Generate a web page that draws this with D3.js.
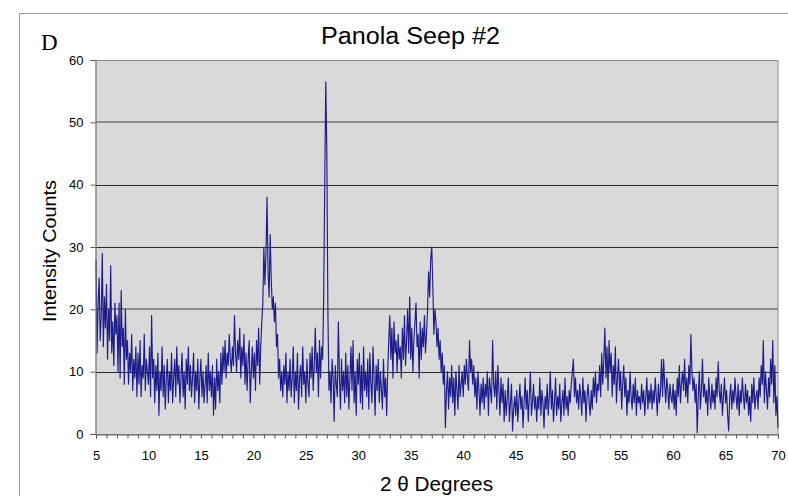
<!DOCTYPE html>
<html>
<head>
<meta charset="utf-8">
<script src="https://cdn.jsdelivr.net/npm/d3@7"></script>
<style>
  html, body { margin: 0; padding: 0; background: #fff; }
  svg { display: block; }
</style>
</head>
<body>
<svg id="chart" width="788" height="496"></svg>
<script>
// ---- Data (2θ from 5 to 70 in 0.1° steps) ----
const startAngle = 5;
const stepAngle = 0.1;
const intensity = [
  28, 13, 21, 25, 15, 19, 29, 14, 22, 17,
  24, 12, 20, 15, 27, 13, 18, 11, 21, 16,
  19, 10, 21, 9, 23, 14, 17, 8, 20, 12,
  15, 8, 13, 10, 16, 7, 12, 9, 14, 6,
  13, 8, 15, 6, 11, 9, 16, 7, 12, 10,
  8, 14, 6, 19, 9, 12, 5, 11, 7, 13,
  3, 10, 7, 14, 6, 11, 4, 9, 12, 5,
  10, 7, 13, 5, 9, 12, 6, 14, 8, 11,
  5, 9, 13, 6, 10, 4, 12, 8, 14, 7,
  11, 6, 9, 13, 5, 10, 7, 12, 4, 9,
  12, 6, 10, 5, 8, 11, 5, 13, 7, 10,
  6, 11, 3, 9, 4, 12, 7, 10, 5, 13,
  8, 14, 10, 15, 9, 13, 11, 16, 12, 10,
  14, 11, 19, 13, 10, 15, 12, 17, 9, 14,
  11, 16, 8, 13, 7, 12, 15, 5, 10, 14,
  9, 13, 7, 15, 11, 17, 8, 14, 18, 21,
  30, 24, 29, 38, 26, 22, 32, 25, 20, 22,
  18, 21, 14, 16, 9, 12, 7, 10, 6, 11,
  8, 13, 5, 10, 7, 12, 6, 9, 14, 5,
  10, 7, 13, 4, 9, 11, 6, 14, 8, 10,
  5, 12, 8, 6, 13, 9, 14, 7, 11, 17,
  10, 13, 6, 15, 9, 14, 12, 22, 40, 56.5,
  45, 20, 7, 10, 5, 12, 9, 2, 11, 8,
  6, 18, 9, 4, 12, 7, 10, 5, 13, 6,
  11, 4, 9, 14, 7, 15, 5, 10, 3, 12,
  8, 13, 5, 11, 4, 14, 7, 10, 6, 12,
  4, 13, 8, 5, 14, 9, 3, 11, 7, 12,
  5, 10, 7, 4, 12, 6, 9, 3, 10, 15,
  19, 12, 17, 9, 18, 13, 15, 10, 16, 12,
  14, 9, 17, 12, 19, 11, 15, 20, 13, 22,
  12, 17, 10, 15, 18, 21, 14, 16, 9, 18,
  12, 17, 14, 19, 13, 16, 20, 26, 22, 28,
  30, 24, 16, 20, 18, 14, 17, 12, 15, 10,
  13, 8, 11, 1, 7, 10, 4, 9, 6, 11,
  5, 9, 3, 10, 7, 4, 11, 6, 8, 10,
  6, 11, 8, 12, 9, 7, 15, 10, 12, 8,
  11, 6, 9, 4, 10, 7, 3, 8, 5, 9,
  4, 8, 6, 10, 3, 9, 7, 5, 15, 8,
  6, 10, 4, 11, 7, 3, 9, 5, 8, 2,
  7, 3, 6, 9, 2, 5, 8, 0.5, 4, 6,
  3, 7, 2, 5, 8, 4, 6, 1, 5, 9,
  4, 7, 2, 6, 10, 3, 5, 8, 4, 6,
  2, 6, 4, 9, 3, 7, 5, 1, 6, 4,
  8, 3, 6, 10, 4, 7, 2, 5, 9, 3,
  6, 4, 8, 2, 5, 7, 3, 9, 4, 6,
  3, 7, 5, 8, 10, 12, 6, 9, 5, 7,
  4, 8, 6, 3, 9, 5, 7, 2, 6, 8,
  5, 3, 7, 4, 9, 6, 10, 5, 8, 7,
  11, 6, 13, 8, 12, 17, 9, 14, 7, 15,
  10, 13, 6, 11, 8, 14, 5, 9, 12, 7,
  10, 4, 8, 11, 6, 9, 3, 7, 5, 10,
  6, 4, 8, 5, 9, 3, 7, 5, 6, 4,
  8, 5, 7, 3, 6, 9, 4, 7, 5, 8,
  4, 7, 5, 9, 6, 3, 8, 5, 7, 12,
  6, 12, 8, 5, 9, 7, 4, 8, 6, 5,
  8, 4, 7, 3, 9, 6, 11, 5, 8, 10,
  7, 12, 6, 9, 5, 11, 8, 16, 10, 7,
  9, 5, 8, 0.2, 6, 10, 4, 7, 12, 6,
  8, 5, 7, 3, 9, 6, 4, 8, 5, 7,
  4, 9, 6, 11.6, 7, 5, 8, 3, 6, 9,
  5, 7, 3, 0.5, 6, 8, 4, 7, 5, 9,
  6, 4, 8, 3, 7, 5, 9, 6, 4, 8,
  5, 7, 3, 6, 2, 8, 5, 9, 4, 6,
  7, 4, 9, 6, 11, 8, 15, 5, 10, 7,
  4, 9, 6, 12, 8, 15, 5, 11, 3, 6,
  1
];
const xTicks = [5, 10, 15, 20, 25, 30, 35, 40, 45, 50, 55, 60, 65, 70];
const yTicks = [0, 10, 20, 30, 40, 50, 60];
const titleText = "Panola Seep #2";
const panelLetter = "D";
const xLabel = "2 \u03B8 Degrees";
const yLabel = "Intensity Counts";

const points = intensity.map((v, i) => ({ x: startAngle + i * stepAngle, y: v }));

// ---- Layout ----
const svg = d3.select("#chart");
const plotLeft = 96, plotRight = 778, plotTop = 60, plotBottom = 434;
const sans = "Liberation Sans, Arial, sans-serif";

const x = d3.scaleLinear().domain([5, 70]).range([plotLeft, plotRight]);
const y = d3.scaleLinear().domain([0, 60]).range([plotBottom, plotTop]);

// Outer frame
svg.append("line").attr("x1", 19.5).attr("x2", 788).attr("y1", 13.5).attr("y2", 13.5)
  .attr("stroke", "#9a9a9a").attr("stroke-width", 1);
svg.append("line").attr("x1", 19.5).attr("x2", 19.5).attr("y1", 13.5).attr("y2", 496)
  .attr("stroke", "#9a9a9a").attr("stroke-width", 1);

// Plot background
svg.append("rect").attr("x", plotLeft).attr("y", plotTop + 0.5)
  .attr("width", plotRight - plotLeft).attr("height", plotBottom - plotTop)
  .attr("fill", "#d9d9d9").attr("stroke", "#8c8c8c").attr("stroke-width", 1);

// Gridlines (20 and 50 appear softer/greyer in the reference)
svg.append("g").selectAll("line")
  .data(yTicks.filter(t => t > 0 && t < 60))
  .join("line")
  .attr("x1", plotLeft).attr("x2", plotRight)
  .attr("y1", d => (d === 20 || d === 50) ? Math.round(y(d)) : Math.round(y(d)) + 0.5)
  .attr("y2", d => (d === 20 || d === 50) ? Math.round(y(d)) : Math.round(y(d)) + 0.5)
  .attr("stroke", d => (d === 20 || d === 50) ? "#8a8a8a" : "#2a2a2a")
  .attr("stroke-width", d => (d === 20 || d === 50) ? 2 : 1);

// Data line
const line = d3.line().x(d => x(d.x)).y(d => y(d.y));
svg.append("path").datum(points)
  .attr("d", line)
  .attr("fill", "none")
  .attr("stroke", "#1c1c8c")
  .attr("stroke-width", 1.15)
  .attr("stroke-linejoin", "round");

// X axis
const xAxis = d3.axisBottom(x)
  .tickValues(d3.range(5, 71, 1))
  .tickSize(4)
  .tickFormat(d => xTicks.includes(d) ? d : "");
const gx = svg.append("g").attr("transform", `translate(0,${plotBottom + 0.5})`).call(xAxis);
gx.select(".domain").attr("stroke", "#666");
gx.selectAll(".tick line").attr("stroke", "#555");
gx.selectAll(".tick text").attr("font-family", sans)
  .attr("font-size", 13).attr("fill", "#000").attr("y", 25.5).attr("dy", 0);

// Y axis
const yAxis = d3.axisLeft(y).tickValues(yTicks).tickSize(5).tickPadding(7);
const gy = svg.append("g").attr("transform", `translate(${plotLeft - 0.5},0)`).call(yAxis);
gy.select(".domain").attr("stroke", "#888");
gy.selectAll(".tick line").attr("stroke", "#555");
gy.selectAll(".tick text").attr("font-family", sans)
  .attr("font-size", 13).attr("fill", "#000");

// Title
svg.append("text").attr("x", 410.5).attr("y", 43.5)
  .attr("text-anchor", "middle")
  .attr("font-family", sans)
  .attr("font-size", 23.5).attr("fill", "#000")
  .attr("textLength", 179).attr("lengthAdjust", "spacingAndGlyphs")
  .text(titleText);

// Panel letter
svg.append("text").attr("x", 41).attr("y", 50)
  .attr("font-family", "Liberation Serif, Times New Roman, serif")
  .attr("font-size", 23).attr("fill", "#000")
  .text(panelLetter);

// Axis labels
svg.append("text").attr("x", 436.5).attr("y", 491)
  .attr("text-anchor", "middle")
  .attr("font-family", sans)
  .attr("font-size", 19.5).attr("fill", "#000")
  .attr("textLength", 113).attr("lengthAdjust", "spacingAndGlyphs")
  .text(xLabel);

svg.append("text")
  .attr("transform", `translate(56,251) rotate(-90)`)
  .attr("text-anchor", "middle")
  .attr("font-family", sans)
  .attr("font-size", 19).attr("fill", "#000")
  .attr("textLength", 142).attr("lengthAdjust", "spacingAndGlyphs")
  .text(yLabel);
</script>
</body>
</html>
